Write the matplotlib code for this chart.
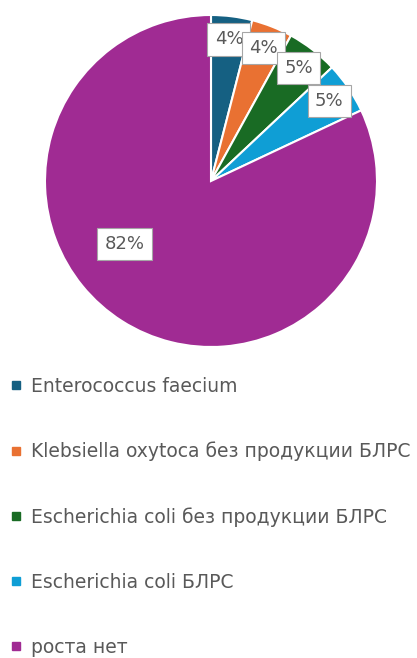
import numpy as np
import matplotlib
matplotlib.use("Agg")
import matplotlib.pyplot as plt
from matplotlib.lines import Line2D

plt.rcParams['font.family'] = ['DejaVu Sans']

# share of isolates, %
categories = [
    "Enterococcus faecium",
    "Klebsiella oxytoca без продукции БЛРС",
    "Escherichia coli без продукции БЛРС",
    "Escherichia coli БЛРС",
    "роста нет",
]
shares = [4, 4, 5, 5, 82]
colors = ["#156082", "#E97132", "#196B24", "#0F9ED5", "#A02B93"]

W, H = 417, 658
fig = plt.figure(figsize=(W / 100, H / 100), dpi=100)

# pie area in pixels: centre (211, 181), radius 166
cx, cy, r = 211, 181, 166
ax = fig.add_axes([(cx - r) / W, (H - cy - r) / H, 2 * r / W, 2 * r / H])

wedges, texts, autotexts = ax.pie(
    shares, colors=colors, startangle=90, counterclock=False,
    autopct=lambda p: f"{p:.0f}%", pctdistance=0.86, radius=1,
    wedgeprops=dict(edgecolor="white", linewidth=1.5),
    textprops=dict(color="#595959", fontsize=13),
)
ax.set_xlim(-1, 1)
ax.set_ylim(-1, 1)
ax.set_aspect("equal")
ax.axis("off")

for t in autotexts:
    t.set_bbox(dict(boxstyle="square,pad=0.4", facecolor="white",
                    edgecolor="#A6A6A6", linewidth=0.8))

# big slice label sits off its mid-angle (best-fit placement)
ang = np.deg2rad(216)
autotexts[-1].set_position((0.645 * np.cos(ang), 0.645 * np.sin(ang)))

handles = [Line2D([], [], marker="s", linestyle="none", markersize=6,
                  markerfacecolor=c, markeredgecolor=c) for c in colors]
leg = fig.legend(handles, categories, loc="upper left",
                 bbox_to_anchor=(3 / W, 1 - 369 / H), frameon=False,
                 fontsize=13.5, labelcolor="#595959", handlelength=0.6,
                 handletextpad=0.5, labelspacing=2.45, borderaxespad=0)

fig.savefig("out.png", dpi=100)
